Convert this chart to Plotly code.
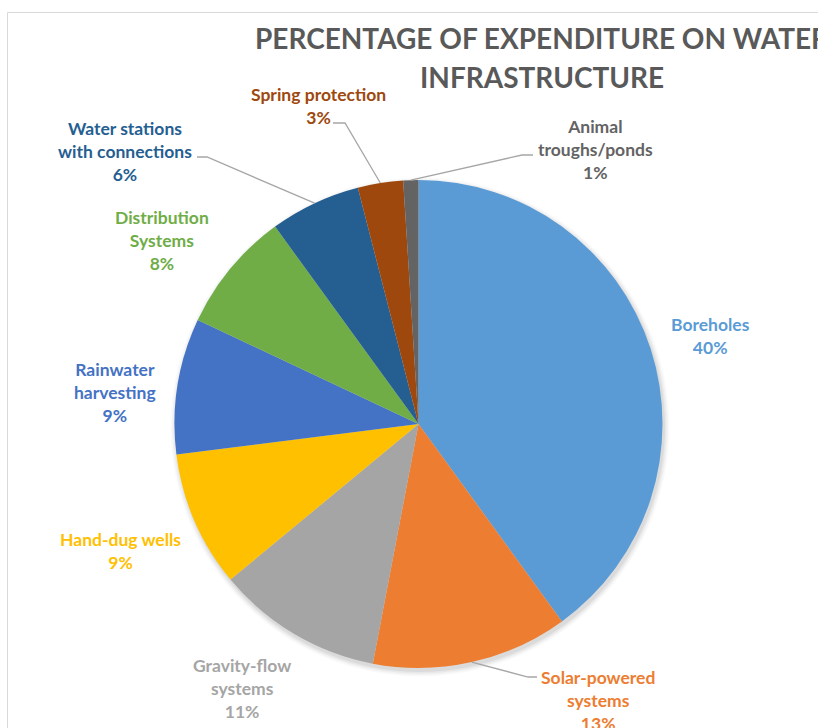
import math
import plotly.graph_objects as go

# Expenditure shares on water infrastructure (percent), clockwise from 12 o'clock
categories = [
    "Boreholes",
    "Solar-powered systems",
    "Gravity-flow systems",
    "Hand-dug wells",
    "Rainwater harvesting",
    "Distribution Systems",
    "Water stations with connections",
    "Spring protection",
    "Animal troughs/ponds",
]
shares = [40, 13, 11, 9, 9, 8, 6, 3, 1]
colors = [
    "#5B9BD5", "#ED7D31", "#A5A5A5", "#FFC000", "#4472C4",
    "#70AD47", "#255E91", "#9E480E", "#636363",
]
# How each label is broken into lines
label_lines = [
    ["Boreholes"],
    ["Solar-powered", "systems"],
    ["Gravity-flow", "systems"],
    ["Hand-dug wells"],
    ["Rainwater", "harvesting"],
    ["Distribution", "Systems"],
    ["Water stations", "with connections"],
    ["Spring protection"],
    ["Animal", "troughs/ponds"],
]
title_lines = ["PERCENTAGE OF EXPENDITURE ON WATER", "INFRASTRUCTURE"]

W, H = 818, 728
CX, CY, R = 418.5, 424.0, 244.0          # pie centre / radius in pixels
FONT = "Lato, 'Liberation Sans Narrow', Roboto, sans-serif"

# Label block centres (pixels) and leader-line routes (bend, text end)
label_pos = {
    "Boreholes": (710, 336),
    "Solar-powered systems": (598, 700),
    "Gravity-flow systems": (242, 688),
    "Hand-dug wells": (120, 551),
    "Rainwater harvesting": (115, 392),
    "Distribution Systems": (162, 241),
    "Water stations with connections": (125, 151),
    "Spring protection": (318, 106),
    "Animal troughs/ponds": (595, 150),
}
leaders = {
    "Solar-powered systems": [(528, 677), (537, 677)],
    "Water stations with connections": [(207, 157), (197, 157)],
    "Spring protection": [(345, 123), (333, 123)],
    "Animal troughs/ponds": [(522, 155), (533, 155)],
}


def px(x):
    return x / W


def py(y):
    return 1 - y / H


fig = go.Figure()
fig.add_trace(go.Pie(
    labels=categories,
    values=shares,
    sort=False,
    direction="clockwise",
    rotation=0,
    marker=dict(colors=colors, line=dict(width=0)),
    textinfo="none",
    hoverinfo="label+percent",
    showlegend=False,
    domain=dict(x=[px(CX - R), px(CX + R)], y=[py(CY + R), py(CY - R)]),
))

shapes = []
# soft drop shadow under the pie
for k, a in enumerate([0.05, 0.04, 0.03, 0.02]):
    rr = R + 1 + k * 1.5
    sx, sy = CX + 1.5, CY + 3
    shapes.append(dict(
        type="circle", xref="paper", yref="paper", layer="below",
        x0=px(sx - rr), x1=px(sx + rr), y0=py(sy + rr), y1=py(sy - rr),
        fillcolor=f"rgba(0,0,0,{a})", line=dict(width=0),
    ))

# frame around the chart area
shapes.append(dict(
    type="rect", xref="paper", yref="paper",
    x0=px(7.5), x1=1.05, y0=-0.05, y1=py(12.5),
    line=dict(color="#D9D9D9", width=1), fillcolor="rgba(0,0,0,0)",
))

# leader lines from slice mid-angle on the rim to the label
total = sum(shares)
cum = 0
for name, v in zip(categories, shares):
    mid = (cum + v / 2) / total * 2 * math.pi
    cum += v
    if name not in leaders:
        continue
    ex, ey = CX + R * math.sin(mid), CY - R * math.cos(mid)
    pts = [(ex, ey)] + leaders[name]
    path = "M " + " L ".join(f"{px(x):.5f},{py(y):.5f}" for x, y in pts)
    shapes.append(dict(
        type="path", xref="paper", yref="paper", path=path,
        line=dict(color="#A6A6A6", width=1.3),
    ))

annotations = []
for line, ty in zip(title_lines, [38, 77]):
    annotations.append(dict(
        text=f"<b>{line}</b>", x=px(542), y=py(ty),
        xref="paper", yref="paper", xanchor="center", yanchor="middle",
        showarrow=False, align="center",
        font=dict(family=FONT, size=28, color="#595959"),
    ))
for name, v, col, lines in zip(categories, shares, colors, label_lines):
    x, y = label_pos[name]
    txt = "<br>".join(lines + [f"{v}%"])
    annotations.append(dict(
        text=f"<b>{txt}</b>", x=px(x), y=py(y),
        xref="paper", yref="paper", xanchor="center", yanchor="middle",
        showarrow=False, align="center",
        font=dict(family=FONT, size=17.5, color=col),
    ))

fig.update_layout(
    width=W, height=H,
    margin=dict(l=0, r=0, t=0, b=0),
    paper_bgcolor="white", plot_bgcolor="white",
    shapes=shapes, annotations=annotations,
)
fig.write_html("out.html")
